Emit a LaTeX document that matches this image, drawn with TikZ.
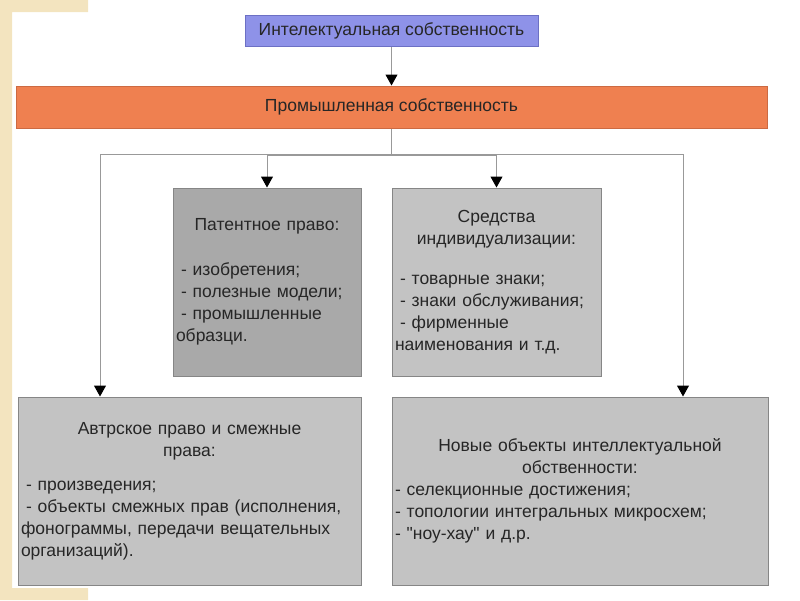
\documentclass[tikz,border=0pt]{standalone}
\usepackage{fontspec}
\newfontfamily\arial{Liberation Sans}
\usetikzlibrary{arrows.meta,positioning}

\definecolor{slideyel}{HTML}{F3E4BF}
\definecolor{intelblue}{HTML}{8E92E8}
\definecolor{inteledge}{HTML}{6C70C4}
\definecolor{promorange}{HTML}{EF8050}
\definecolor{promedge}{HTML}{CC6A42}
\definecolor{patgray}{HTML}{A9A9A9}
\definecolor{cellgray}{HTML}{C3C3C3}
\definecolor{celledge}{HTML}{868686}
\definecolor{wiregray}{HTML}{999999}
\definecolor{ink}{HTML}{262626}

\newcommand\indnt{\hspace*{5pt}}
\newcommand\ttl[1]{{\centering #1\par}}

\tikzset{
  headbox/.style={draw, line width=1pt, text=ink, inner sep=0pt,
    font=\arial\fontsize{17.5}{22}\selectfont},
  cell/.style={draw=celledge, line width=1pt, fill=cellgray, text=ink,
    font=\arial\fontsize{17.5}{22}\selectfont, align=left,
    inner xsep=3pt, inner ysep=0pt, minimum height=188pt},
  wire/.style={draw=wiregray, line width=1pt},
  link/.style={wire, -{Triangle[width=12pt,length=11pt,color=black]}},
}

\begin{document}
\begin{tikzpicture}[x=1pt,y=-1pt]
   \useasboundingbox (0,0) rectangle (800,600);

   % slide corner
   \fill[slideyel] (0,0) -- (88,0) -- (88,12) -- (12,12) -- (12,588)
      -- (88,588) -- (88,600) -- (0,600) -- cycle;

   \node[headbox, fill=intelblue, draw=inteledge, minimum width=293pt, minimum height=31pt]
      (intel) at (391.5,30.5) {Интелектуальная собственность};
   \node[headbox, fill=promorange, draw=promedge, minimum width=751pt, minimum height=42pt]
      (prom) [below=39pt of intel] {Промышленная собственность};

   \node[cell, fill=patgray, text width=182pt, minimum width=188pt] (pat) at (267,282)
      {\ttl{Патентное право:}\vspace{23pt}
       \indnt- изобретения;\\
       \indnt- полезные модели;\\
       \indnt- промышленные\\
       образци.};
   \node[cell, text width=203pt, minimum width=209pt] (sred) [right=30pt of pat]
      {\ttl{Средства\\ индивидуализации:}\vspace{18pt}
       \indnt- товарные знаки;\\
       \indnt- знаки обслуживания;\\
       \indnt- фирменные\\
       наименования и т.д.};

   \node[cell, text width=337pt, minimum width=343pt] (avt) at (189.5,491)
      {\ttl{Автрское право и смежные\\ права:}\vspace{12pt}
       \indnt- произведения;\\
       \indnt- объекты смежных прав (исполнения,\\
       фонограммы, передачи вещательных\\
       организаций).};
   \node[cell, text width=370pt, minimum width=376pt] (nov) [right=30pt of avt]
      {\ttl{Новые объекты интеллектуальной\\ обственности:}
       - селекционные достижения;\\
       - топологии интегральных микросхем;\\
       - "ноу-хау" и д.р.};

   \coordinate (hub) at ([yshift=-27pt]prom.south);
   \coordinate (lft) at (100,154);
   \coordinate (rgt) at (683,154);

   % connectors
   \draw[link] (intel) -- (prom);
   \draw[wire] (prom) -- (hub);
   \draw[wire] (lft) -- (rgt);
   \draw[link] (hub) -| (pat.north);
   \draw[link] (hub) -| (sred.north);
   \draw[link] (lft) -- (lft |- avt.north);
   \draw[link] (rgt) -- (rgt |- nov.north);

\end{tikzpicture}
\end{document}
